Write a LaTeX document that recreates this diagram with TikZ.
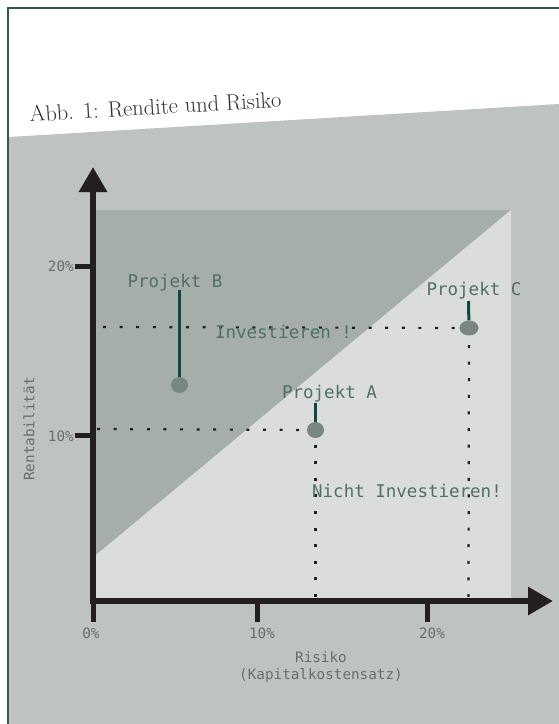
\documentclass[tikz,border=0pt]{standalone}
\usepackage{fontspec}
\setmonofont{DejaVu Sans Mono}
\usetikzlibrary{arrows.meta,shapes.geometric}

\definecolor{rahmen}{HTML}{2D5B4F}
\definecolor{hgrund}{HTML}{BEC3C1}
\definecolor{dunkelfeld}{HTML}{A6AEAB}
\definecolor{hellfeld}{HTML}{DADDDB}
\definecolor{achsfarbe}{HTML}{231F20}
\definecolor{stielfarbe}{HTML}{0E4A3E}
\definecolor{punktfarbe}{HTML}{788780}
\definecolor{schrift}{HTML}{4E7066}
\definecolor{skala}{HTML}{6A6C6C}
\definecolor{titel}{HTML}{333333}

\begin{document}
\begin{tikzpicture}[x=1pt,y=-1pt,
		achse/.style={achsfarbe,line width=6pt,line cap=rect,-{Triangle[width=27pt,length=25pt]}},
		strich/.style={achsfarbe,line width=5pt},
		punkte/.style={achsfarbe,line width=2.2pt,dash pattern=on 3pt off 13.6pt},
		stiel/.style={stielfarbe,line width=3pt},
		punkt/.style={ellipse,fill=punktfarbe,inner sep=0pt,minimum width=17pt,minimum height=16pt},
		projekt/.style={font=\fontsize{17.5}{21}\ttfamily,text=schrift,inner sep=0pt},
		skalatext/.style={font=\fontsize{14.3}{17}\ttfamily,text=skala,inner sep=0pt}]
		\useasboundingbox (0,0) rectangle (559,724);
		\clip (0,0) rectangle (559,724);

		\fill[white] (0,0) rectangle (559,724);
		\fill[hgrund] (9,137) -- (559,104) -- (559,724) -- (9,724) -- cycle;
		\draw[rahmen,line width=2pt] (8,730) -- (8,8) -- (565,8);

		\node[anchor=base west,rotate=3.4,inner sep=0pt,text=titel,
			font=\fontsize{22.5}{26}\selectfont] (titel) at (30,122) {Abb. 1: Rendite und Risiko};

		\fill[dunkelfeld] (96,210) -- (511,210) -- (96,555) -- cycle;
		\fill[hellfeld] (96,555) -- (511,210) -- (511,598) -- (96,598) -- cycle;

		\node[punkt] (pB) at (179.5,385) {};
		\node[punkt] (pA) at (315.5,430) {};
		\node[punkt,minimum width=19pt,minimum height=15pt] (pC) at (469,328) {};

		\coordinate (hC) at (103,327);
		\coordinate (hA) at (97,429);
		\coordinate (xA) at (315.5,597);
		\coordinate (xC) at (468.5,597);
		\draw[punkte] (hC) -- (pC);
		\draw[punkte] (hA) -- (pA);
		\draw[punkte] (xA) -- (pA);
		\draw[punkte] (xC) -- (pC);

		\coordinate (sB) at (179.5,290);
		\coordinate (sA) at (315.5,403);
		\coordinate (sC) at (468.5,301);
		\draw[stiel] (sB) -- (pB);
		\draw[stiel] (sA) -- (pA);
		\draw[stiel] (sC) -- (pC);

		\coordinate (O) at (93,601);
		\coordinate (yEnde) at (93,167);
		\coordinate (xEnde) at (553,601);
		\draw[achse] (O) -- (yEnde);
		\draw[achse] (O) -- (xEnde);

		\draw[strich] (75,266) -- (96,266);
		\draw[strich] (75,435) -- (96,435);
		\draw[strich] (93,601) -- (93,622);
		\draw[strich] (257,601) -- (257,622);
		\draw[strich] (427,601) -- (427,622);

		\node[skalatext,anchor=east] (y20) at (74,266) {20\%};
		\node[skalatext,anchor=east] (y10) at (74,436) {10\%};
		\node[skalatext] (x0) at (91,633) {0\%};
		\node[skalatext] (x10) at (262,633) {10\%};
		\node[skalatext] (x20) at (432,633) {20\%};
		\node[skalatext,align=center] (risiko) at (321,667) {Risiko\\(Kapitalkostensatz)};
		\node[skalatext,rotate=90] (rendite) at (29,429) {Rentabilität};

		\node[projekt,anchor=base] (lB) at (175,287) {Projekt B};
		\node[projekt,anchor=base] (lC) at (474,295) {Projekt C};
		\node[projekt,anchor=base] (lA) at (329.5,398) {Projekt A};
		\node[projekt,anchor=base] (inv) at (283.5,338) {Investieren !};
		\node[projekt,anchor=base] (nichtinv) at (407,497) {Nicht Investieren!};

	\end{tikzpicture}
\end{document}
